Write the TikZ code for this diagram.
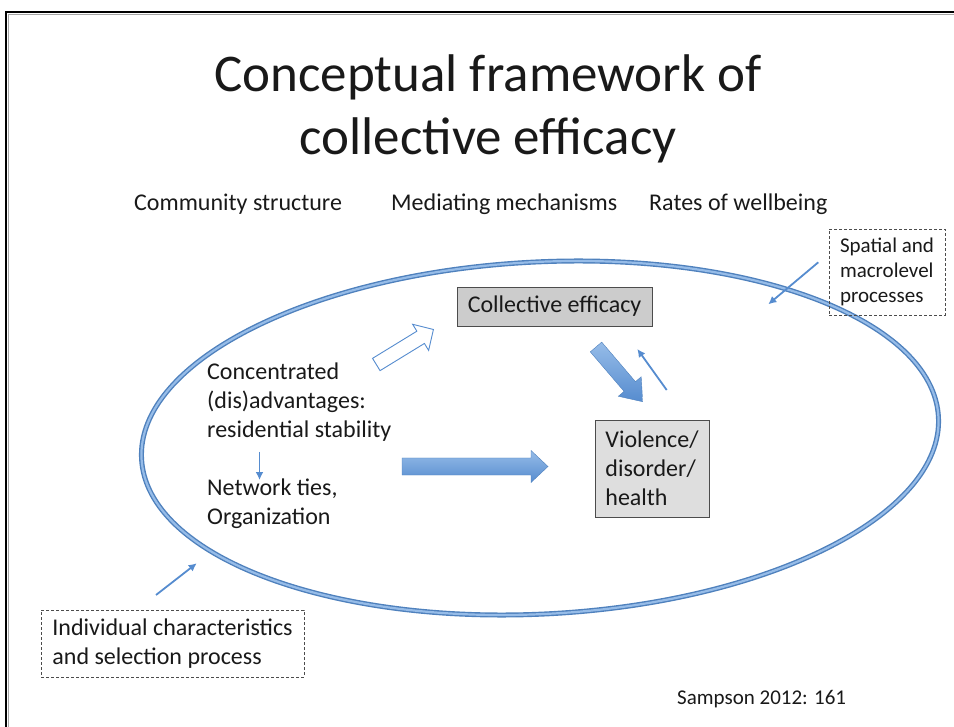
\documentclass[tikz,border=0pt]{standalone}
\usepackage{fontspec}
\setmainfont{Carlito}
\usetikzlibrary{arrows.meta}

\definecolor{efblue}{RGB}{86,140,207}
\definecolor{efdark}{RGB}{79,129,189}
\definecolor{eflight}{RGB}{150,188,232}

\begin{document}
\begin{tikzpicture}[x=1pt, y=-1pt,
      every node/.append style={inner sep=0pt, text=black!90},
      body/.style={font=\fontsize{24}{29}\selectfont, align=left},
      small/.style={font=\fontsize{21}{25}\selectfont, align=left},
      heading/.style={font=\fontsize{53}{63}\selectfont, anchor=base},
      graybox/.style={body, draw=black!70, line width=0.8pt},
      dashbox/.style={draw=black!70, line width=0.7pt, dash pattern=on 3pt off 2pt},
      thinarrow/.style={draw=efblue, line width=1.8pt, -{Latex[length=8pt,width=8pt]}},
      fullarrow/.style={top color=eflight, bottom color=efblue, draw=efdark, line width=0.4pt},
      hollowarrow/.style={fill=white, draw=efblue, line width=0.9pt},
      pics/fatarrow/.style args={#1,#2,#3,#4}{code={
        \path[pic actions] (0,-#2) -- (#1-#4,-#2) -- (#1-#4,-#3) -- (#1,0)
          -- (#1-#4,#3) -- (#1-#4,#2) -- (0,#2) -- cycle;
      }}]
    \useasboundingbox (0,0) rectangle (954,727);

    % slide frame
    \draw[black!35, line width=1.2pt] (8.5,727) -- (8.5,14.5) -- (954,14.5);
    \draw[black, line width=2.2pt] (6,727) -- (6,12) -- (954,12);

    \node (title) [heading] at (488,92) {Conceptual framework of};
    \node (title2) [heading] at (488,155) {collective efficacy};

    \node (community) [body, anchor=base west] at (134,211) {Community structure};
    \node (mediating) [body, anchor=base west] at (391,211) {Mediating mechanisms};
    \node (rates) [body, anchor=base west] at (649,211) {Rates of wellbeing};

    % the neighbourhood
    \draw[efdark, line width=5pt] (540,438) ellipse [x radius=399, y radius=176, rotate=3];
    \draw[eflight, line width=2.2pt] (540,438) ellipse [x radius=399, y radius=176, rotate=3];

    \node (efficacy) [graybox, fill=black!20, minimum width=195, minimum height=39]
      at (554.5,306.5) {Collective efficacy};
    \node (outcome) [graybox, fill=black!13, minimum width=114, minimum height=97]
      at (652,468.5) {Violence/\\disorder/\\health};

    \node (structure) [body, anchor=north west] at (207,363) {Concentrated\\(dis)advantages:\\residential stability};
    \node (ties) [body, anchor=north west] at (207,479) {Network ties,\\Organization};

    \node (spatial) [small, dashbox, minimum width=116, minimum height=86, inner xsep=10pt]
      at (887,272) {Spatial and\\macrolevel\\processes};
    \node (individual) [body, dashbox, minimum width=263, minimum height=67]
      at (172.5,643.5) {Individual characteristics\\and selection process};

    \node (source) [small, anchor=base west] at (677,704) {Sampson 2012: 161};

    % block arrows
    \pic[hollowarrow, rotate=31.5] at (376.3,364.5) {fatarrow={67,7.2,15.3,15}};
    \pic[fullarrow] at (402,466.5) {fatarrow={146,8.5,16,17}};
    \pic[fullarrow, rotate=-49.5] at (596,347) {fatarrow={72,7.5,15,20}};

    % thin arrows
    \coordinate (tiestop) at (259.5,452);
    \coordinate (tiesend) at (259.5,480);
    \coordinate (feedback) at (666.7,390);
    \coordinate (feedbackend) at (637.3,349);
    \coordinate (spatialtail) at (818.3,262.3);
    \coordinate (spatialend) at (768.3,304.3);
    \coordinate (individualtail) at (156,595);
    \coordinate (individualend) at (196.7,563.3);
    \draw[thinarrow] (tiestop) -- (tiesend);
    \draw[thinarrow] (feedback) -- (feedbackend);
    \draw[thinarrow] (spatialtail) -- (spatialend);
    \draw[thinarrow] (individualtail) -- (individualend);
\end{tikzpicture}
\end{document}
